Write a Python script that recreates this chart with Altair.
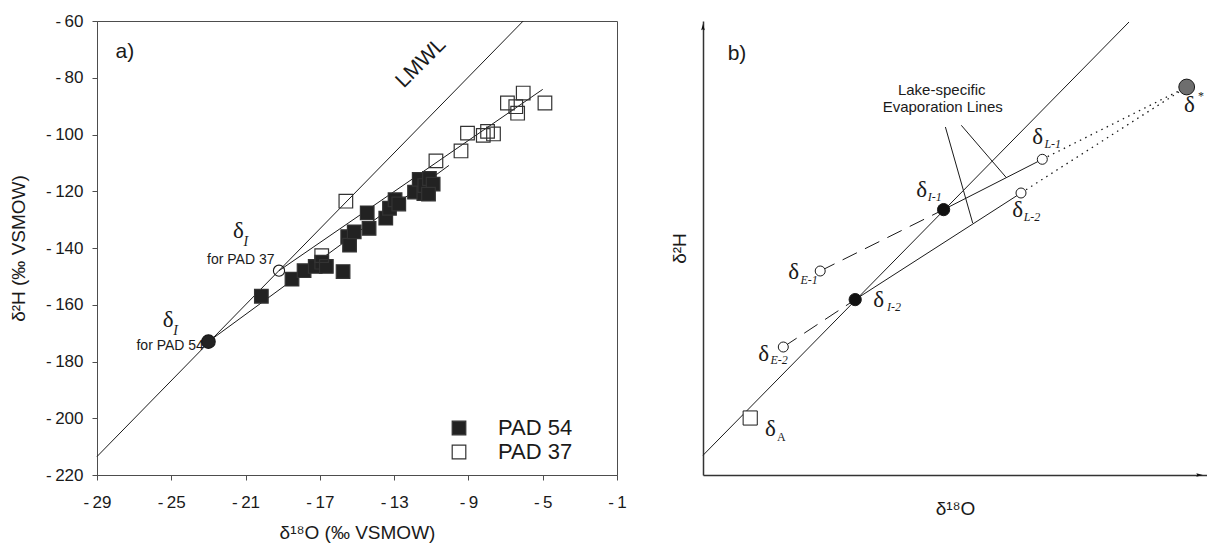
import altair as alt
import pandas as pd

SANS = "Liberation Sans"
SERIF = "Liberation Serif"
INK = "#1a1a1a"
AXC = "#4d4d4d"

# ---------------- Panel a : measured data (per mil VSMOW) ----------------
pad54_o18 = [-20.15, -18.5, -17.85, -17.25, -16.9, -16.65, -15.75, -15.5, -15.4, -15.15,
             -14.45, -14.35, -13.45, -13.25, -12.95, -12.75, -11.9, -11.65, -11.4, -11.35,
             -11.1, -10.9, -11.15]
pad54_h2 = [-157.0, -151.0, -148.0, -146.5, -145.0, -146.5, -148.3, -136.0, -139.0, -134.3,
            -127.6, -133.1, -129.5, -126.0, -123.0, -124.5, -120.3, -115.8, -120.8, -118.0,
            -115.5, -117.5, -121.0]
pad37_o18 = [-15.6, -16.9, -10.75, -9.4, -9.05, -8.2, -7.97, -7.65, -6.9, -6.45, -6.35, -6.05, -4.88]
pad37_h2 = [-123.5, -142.7, -109.3, -105.8, -99.5, -100.3, -98.9, -99.8, -88.9, -90.2, -92.5, -85.4, -88.9]
series_names = ["PAD 54", "PAD 37"]

line_names = ["LMWL", "LEL PAD 54", "LEL PAD 37"]
line_x1 = [-29.0, -23.0, -19.2]
line_y1 = [-213.5, -173.0, -148.0]
line_x2 = [-6.05, -10.05, -5.0]
line_y2 = [-60.0, -110.9, -84.1]

di_names = ["PAD 54", "PAD 37"]
di_o18 = [-23.0, -19.2]
di_h2 = [-173.0, -148.0]
di_size = [185, 125]

x_ticks = [-29, -25, -21, -17, -13, -9, -5, -1]
y_ticks = [-220, -200, -180, -160, -140, -120, -100, -80, -60]

a_delta_x = [-21.39, -25.17]
a_delta_y = [-133.9, -165.5]
a_sub_x = [-20.99, -24.77]
a_sub_y = [-137.8, -169.4]
a_for_text = ["for PAD 37", "for PAD 54"]
a_for_x = [-21.26, -25.06]
a_for_y = [-144.3, -174.6]

# ---------------- Panel b : schematic (arbitrary units) ----------------
b_pt_names = ["I-1", "I-2", "L-1", "L-2", "E-1", "E-2", "A", "star"]
b_pt_x = [240.6, 152.2, 339.3, 318.0, 117.2, 80.3, 47.2, 483.7]
b_pt_y = [265.4, 175.4, 315.7, 282.0, 204.0, 128.0, 57.0, 388.0]

b_solid_x1 = [0.0, 240.6, 152.2, 242.4, 258.3]
b_solid_y1 = [19.7, 265.4, 175.4, 348.0, 349.7]
b_solid_x2 = [426.0, 339.3, 318.0, 269.7, 303.3]
b_solid_y2 = [453.0, 315.7, 282.0, 252.0, 297.4]

b_dash_x1 = [117.2, 80.3]
b_dash_y1 = [204.0, 128.0]
b_dash_x2 = [240.6, 152.2]
b_dash_y2 = [265.4, 175.4]

b_dot_x1 = [339.3, 318.0]
b_dot_y1 = [315.7, 282.0]
b_dot_x2 = [483.7, 483.7]
b_dot_y2 = [388.0, 388.0]

b_delta_x = [218.7, 334.7, 314.7, 90.7, 60.7, 175.7, 67.4, 486.4]
b_delta_y = [284.7, 338.0, 264.7, 203.0, 121.4, 174.7, 46.4, 369.7]
b_sub_text = ["I-1", "L-1", "L-2", "E-1", "E-2", "I-2"]
b_sub_x = [224.7, 341.4, 320.7, 97.4, 67.4, 184.0]
b_sub_y = [277.7, 331.4, 258.0, 195.4, 114.7, 168.0]
b_up_text = ["A", "*"]
b_up_x = [74.0, 495.0]
b_up_y = [38.0, 379.0]
b_note_text = ["Lake-specific", "Evaporation Lines"]
b_note_x = [238.7, 239.7]
b_note_y = [384.7, 368.0]

B_W, B_H = 504, 454

# ================= build panel a =================
pts = pd.DataFrame({
    "o18": pad54_o18 + pad37_o18,
    "h2": pad54_h2 + pad37_h2,
    "series": [series_names[0]] * len(pad54_o18) + [series_names[1]] * len(pad37_o18),
})
lines_a = pd.DataFrame({"name": line_names, "x1": line_x1, "y1": line_y1, "x2": line_x2, "y2": line_y2})
di_df = pd.DataFrame({"name": di_names, "o18": di_o18, "h2": di_h2, "size": di_size})

xs = alt.Scale(domain=[-29, -1], nice=False, zero=False)
ys = alt.Scale(domain=[-220, -60], nice=False, zero=False)

HYPHEN = "replace(datum.label, '\u2212', '-\u2009')"

xaxis = alt.Axis(values=x_ticks, title="δ¹⁸O (‰ VSMOW)", grid=False, tickSize=5,
                 labelFont=SANS, labelFontSize=17, labelColor=INK, labelPadding=14,
                 labelExpr=HYPHEN,
                 titleFont=SANS, titleFontSize=19, titleFontWeight="normal", titleColor=INK,
                 titlePadding=13, domainColor=AXC, tickColor=AXC, labelFlush=False)
yaxis = alt.Axis(values=y_ticks, title="δ²H (‰ VSMOW)", grid=False, tickSize=5,
                 labelFont=SANS, labelFontSize=17, labelColor=INK, labelPadding=9,
                 labelExpr=HYPHEN,
                 titleFont=SANS, titleFontSize=19, titleFontWeight="normal", titleColor=INK,
                 titlePadding=17, domainColor=AXC, tickColor=AXC)

a_lines = alt.Chart(lines_a).mark_rule(color=INK, strokeWidth=1).encode(
    x=alt.X("x1:Q", scale=xs, axis=xaxis), y=alt.Y("y1:Q", scale=ys, axis=yaxis),
    x2="x2:Q", y2="y2:Q")

a_pts = alt.Chart(pts).mark_point(shape="square", filled=True, size=185, stroke="#333",
                                  strokeWidth=1.2, opacity=1).encode(
    x=alt.X("o18:Q", scale=xs), y=alt.Y("h2:Q", scale=ys),
    fill=alt.Fill("series:N", scale=alt.Scale(domain=series_names, range=["#222222", "rgba(0,0,0,0)"]),
                  legend=alt.Legend(orient="none", legendX=351, legendY=396, title=None,
                                    symbolType="square", symbolSize=185, symbolStrokeColor="#333",
                                    symbolStrokeWidth=1.2, labelFont=SANS, labelFontSize=22,
                                    labelColor=INK, labelOffset=28, rowPadding=2, padding=0)))

a_di = alt.Chart(di_df).mark_point(shape="circle", filled=True, stroke=INK,
                                   strokeWidth=1.1, opacity=1).encode(
    x=alt.X("o18:Q", scale=xs), y=alt.Y("h2:Q", scale=ys),
    size=alt.Size("size:Q", scale=None),
    fill=alt.Fill("name:N", scale=alt.Scale(domain=di_names, range=["#1a1a1a", "#ffffff"]), legend=None))

a_lab = alt.Chart(pd.DataFrame({"t": ["a)"], "x": [-27.5], "y": [-71.0]})).mark_text(
    font=SANS, fontSize=21, color=INK, align="center", baseline="middle").encode(
    x=alt.X("x:Q", scale=xs), y=alt.Y("y:Q", scale=ys), text="t:N")
a_lmwl = alt.Chart(pd.DataFrame({"t": ["LMWL"], "x": [-11.55], "y": [-74.8]})).mark_text(
    font=SANS, fontSize=21, color=INK, align="center", baseline="middle", angle=315).encode(
    x=alt.X("x:Q", scale=xs), y=alt.Y("y:Q", scale=ys), text="t:N")
a_delta = alt.Chart(pd.DataFrame({"t": ["δ", "δ"], "x": a_delta_x, "y": a_delta_y})).mark_text(
    font=SERIF, fontSize=23, color=INK, align="center", baseline="middle").encode(
    x=alt.X("x:Q", scale=xs), y=alt.Y("y:Q", scale=ys), text="t:N")
a_sub = alt.Chart(pd.DataFrame({"t": ["I", "I"], "x": a_sub_x, "y": a_sub_y})).mark_text(
    font=SERIF, fontSize=14, fontStyle="italic", color=INK, align="center", baseline="middle").encode(
    x=alt.X("x:Q", scale=xs), y=alt.Y("y:Q", scale=ys), text="t:N")
a_for = alt.Chart(pd.DataFrame({"t": a_for_text, "x": a_for_x, "y": a_for_y})).mark_text(
    font=SANS, fontSize=14, color=INK, align="center", baseline="middle").encode(
    x=alt.X("x:Q", scale=xs), y=alt.Y("y:Q", scale=ys), text="t:N")

panel_a = alt.layer(a_lines, a_pts, a_di, a_lab, a_lmwl, a_delta, a_sub, a_for).properties(
    width=520, height=454, view=alt.ViewBackground(stroke=AXC, strokeWidth=1))

# ================= build panel b =================
bxs = alt.Scale(domain=[0, B_W], nice=False, zero=False)
bys = alt.Scale(domain=[0, B_H], nice=False, zero=False)
bxaxis = alt.Axis(title="δ¹⁸O", ticks=False, labels=False, grid=False, domainColor="#333",
                  domainWidth=1.5, titleFont=SANS, titleFontSize=19, titleFontWeight="normal",
                  titleColor=INK, titlePadding=24)
byaxis = alt.Axis(title="δ²H", ticks=False, labels=False, grid=False, domainColor="#333",
                  domainWidth=1.5, titleFont=SANS, titleFontSize=19, titleFontWeight="normal",
                  titleColor=INK, titlePadding=14)

solid = pd.DataFrame({"x1": b_solid_x1, "y1": b_solid_y1, "x2": b_solid_x2, "y2": b_solid_y2})
dash = pd.DataFrame({"x1": b_dash_x1, "y1": b_dash_y1, "x2": b_dash_x2, "y2": b_dash_y2})
dot = pd.DataFrame({"x1": b_dot_x1, "y1": b_dot_y1, "x2": b_dot_x2, "y2": b_dot_y2})
bpts = pd.DataFrame({"name": b_pt_names, "x": b_pt_x, "y": b_pt_y})

b_solid = alt.Chart(solid).mark_rule(color=INK, strokeWidth=1).encode(
    x=alt.X("x1:Q", scale=bxs, axis=bxaxis), y=alt.Y("y1:Q", scale=bys, axis=byaxis),
    x2="x2:Q", y2="y2:Q")
b_dash = alt.Chart(dash).mark_rule(color=INK, strokeWidth=1, strokeDash=[16, 9]).encode(
    x=alt.X("x1:Q", scale=bxs), y=alt.Y("y1:Q", scale=bys), x2="x2:Q", y2="y2:Q")
b_dot = alt.Chart(dot).mark_rule(color=INK, strokeWidth=1.3, strokeDash=[1.5, 4.5]).encode(
    x=alt.X("x1:Q", scale=bxs), y=alt.Y("y1:Q", scale=bys), x2="x2:Q", y2="y2:Q")

pt_fill = ["#111111", "#111111", "#ffffff", "#ffffff", "#ffffff", "#ffffff", "#ffffff", "#6e6e6e"]
pt_shape = ["circle", "circle", "circle", "circle", "circle", "circle", "square", "circle"]
pt_size = [150, 150, 100, 100, 100, 100, 200, 250]
bpts["fill"] = pt_fill
bpts["shape"] = pt_shape
bpts["size"] = pt_size
b_points = alt.Chart(bpts).mark_point(filled=True, stroke=INK, strokeWidth=1, opacity=1).encode(
    x=alt.X("x:Q", scale=bxs), y=alt.Y("y:Q", scale=bys),
    fill=alt.Fill("fill:N", scale=None), shape=alt.Shape("shape:N", scale=None),
    size=alt.Size("size:Q", scale=None))

arrow_x = [0.0, B_W - 8.5]
arrow_y = [B_H - 7.0, 0.0]
arrow_shape = ["M0,-1L0.42,0.5L0,0.3L-0.42,0.5Z", "M1,0L-0.5,0.42L-0.3,0L-0.5,-0.42Z"]
b_arrows = alt.Chart(pd.DataFrame({"x": arrow_x, "y": arrow_y, "s": arrow_shape})).mark_point(
    filled=True, size=75, color="#111", opacity=1).encode(
    x=alt.X("x:Q", scale=bxs), y=alt.Y("y:Q", scale=bys), shape=alt.Shape("s:N", scale=None))

b_lab = alt.Chart(pd.DataFrame({"t": ["b)"], "x": [34.0], "y": [421.4]})).mark_text(
    font=SANS, fontSize=21, color=INK, align="center", baseline="middle").encode(
    x=alt.X("x:Q", scale=bxs), y=alt.Y("y:Q", scale=bys), text="t:N")
b_delta = alt.Chart(pd.DataFrame({"t": ["δ"] * len(b_delta_x), "x": b_delta_x, "y": b_delta_y})).mark_text(
    font=SERIF, fontSize=23, color=INK, align="center", baseline="middle").encode(
    x=alt.X("x:Q", scale=bxs), y=alt.Y("y:Q", scale=bys), text="t:N")
b_sub = alt.Chart(pd.DataFrame({"t": b_sub_text, "x": b_sub_x, "y": b_sub_y})).mark_text(
    font=SERIF, fontSize=12, fontStyle="italic", color=INK, align="left", baseline="middle").encode(
    x=alt.X("x:Q", scale=bxs), y=alt.Y("y:Q", scale=bys), text="t:N")
b_up = alt.Chart(pd.DataFrame({"t": b_up_text, "x": b_up_x, "y": b_up_y})).mark_text(
    font=SERIF, fontSize=12, color=INK, align="left", baseline="middle").encode(
    x=alt.X("x:Q", scale=bxs), y=alt.Y("y:Q", scale=bys), text="t:N")
b_note = alt.Chart(pd.DataFrame({"t": b_note_text, "x": b_note_x, "y": b_note_y})).mark_text(
    font=SANS, fontSize=15, color=INK, align="center", baseline="middle").encode(
    x=alt.X("x:Q", scale=bxs), y=alt.Y("y:Q", scale=bys), text="t:N")

panel_b = alt.layer(b_solid, b_dash, b_dot, b_points, b_arrows, b_lab, b_delta, b_sub, b_up, b_note).properties(
    width=B_W, height=B_H, view=alt.ViewBackground(stroke=None))

chart = alt.hconcat(panel_a, panel_b, spacing=86, bounds="flush").properties(
    padding={"left": 1, "top": 3, "right": 0, "bottom": 0}
).configure_view(stroke=None).configure_axis(grid=False)

chart.save("out.html", embed_options={"renderer": "svg", "actions": False})
